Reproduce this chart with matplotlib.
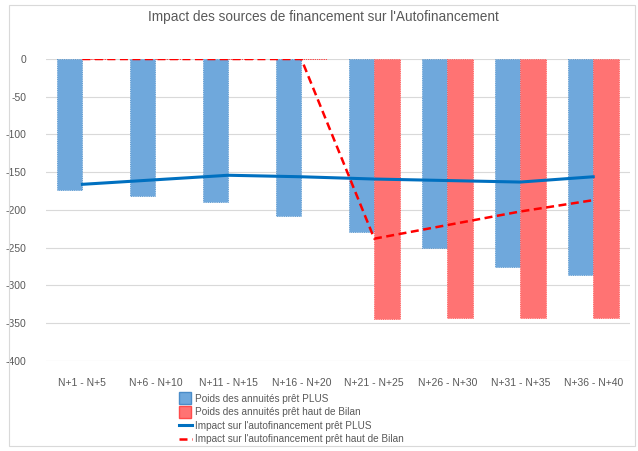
import numpy as np
import matplotlib
matplotlib.use("Agg")
import matplotlib.pyplot as plt
from matplotlib.patches import Rectangle
from matplotlib.lines import Line2D

plt.rcParams['font.family'] = ['Liberation Sans', 'DejaVu Sans']

categories = ["N+1 - N+5", "N+6 - N+10", "N+11 - N+15", "N+16 - N+20",
              "N+21 - N+25", "N+26 - N+30", "N+31 - N+35", "N+36 - N+40"]
poids_plus = [-174, -182, -190, -208, -229, -251, -275, -286]
poids_bilan = [0, 0, 0, 0, -344, -343, -343, -343]
impact_plus = [-166, -160, -154, -156, -159, -161, -163, -156]
impact_bilan = [0, 0, 0, 0, -238, -220, -202, -187]
yticks = [0, -50, -100, -150, -200, -250, -300, -350, -400]

fig = plt.figure(figsize=(6.38, 4.51), dpi=100)
ax = fig.add_axes([0.072, 0.1996, 0.915, 0.6696])

x = np.arange(len(categories))
w = 0.35
grey = "#595959"
blue_bar = "#6FA8DC"
red_bar = "#FF7373"

ax.bar(x - w / 2, poids_plus, w, color=blue_bar,
       edgecolor="#4A8CC8", linestyle=":", linewidth=0.6, zorder=2)
ax.bar(x + w / 2, poids_bilan, w, color=red_bar,
       edgecolor="#FF4B4B", linestyle=":", linewidth=0.6, zorder=2)
l1, = ax.plot(x, impact_plus, color="#0070C0", linewidth=2.2,
              label="Impact sur l'autofinancement prêt PLUS", zorder=3)
l2, = ax.plot(x, impact_bilan, color="#FF0000", linewidth=1.8, linestyle=(0, (3.2, 1.8)),
              label="Impact sur l'autofinancement prêt haut de Bilan", zorder=3)

ax.set_xlim(-0.5, len(categories) - 0.5)
ax.set_ylim(-400, 0)
ax.set_yticks(yticks)
ax.set_yticklabels([str(v) for v in yticks])
ax.set_xticks(x)
ax.set_xticklabels(categories)
ax.tick_params(axis="both", length=0, labelsize=7.5, colors=grey)
ax.tick_params(axis="x", pad=12)
ax.tick_params(axis="y", pad=14)
ax.grid(axis="y", color="#D9D9D9", linewidth=0.8, zorder=0)
ax.set_axisbelow(True)
for s in ax.spines.values():
    s.set_visible(False)

fig.text(0.507, 0.962, "Impact des sources de financement sur l'Autofinancement",
         ha="center", va="center", fontsize=9.8, color=grey)

h1 = Line2D([], [], marker="s", linestyle="none", markersize=8, color=blue_bar,
            markeredgecolor="#4A8CC8", label="Poids des annuités prêt PLUS")
h2 = Line2D([], [], marker="s", linestyle="none", markersize=8, color=red_bar,
            markeredgecolor="#FF4B4B", label="Poids des annuités prêt haut de Bilan")
fig.legend(handles=[h1, h2, l1, l2], loc="upper left", bbox_to_anchor=(0.272, 0.138),
           frameon=False, fontsize=7.2, labelcolor=grey, handlelength=1.3,
           handletextpad=0.3, labelspacing=0.35, borderpad=0)

# chart border
fig.patches.append(Rectangle((0.014, 0.012), 0.981, 0.977, transform=fig.transFigure,
                             fill=False, edgecolor="#D9D9D9", linewidth=0.8))

fig.savefig("out.png", dpi=100)
